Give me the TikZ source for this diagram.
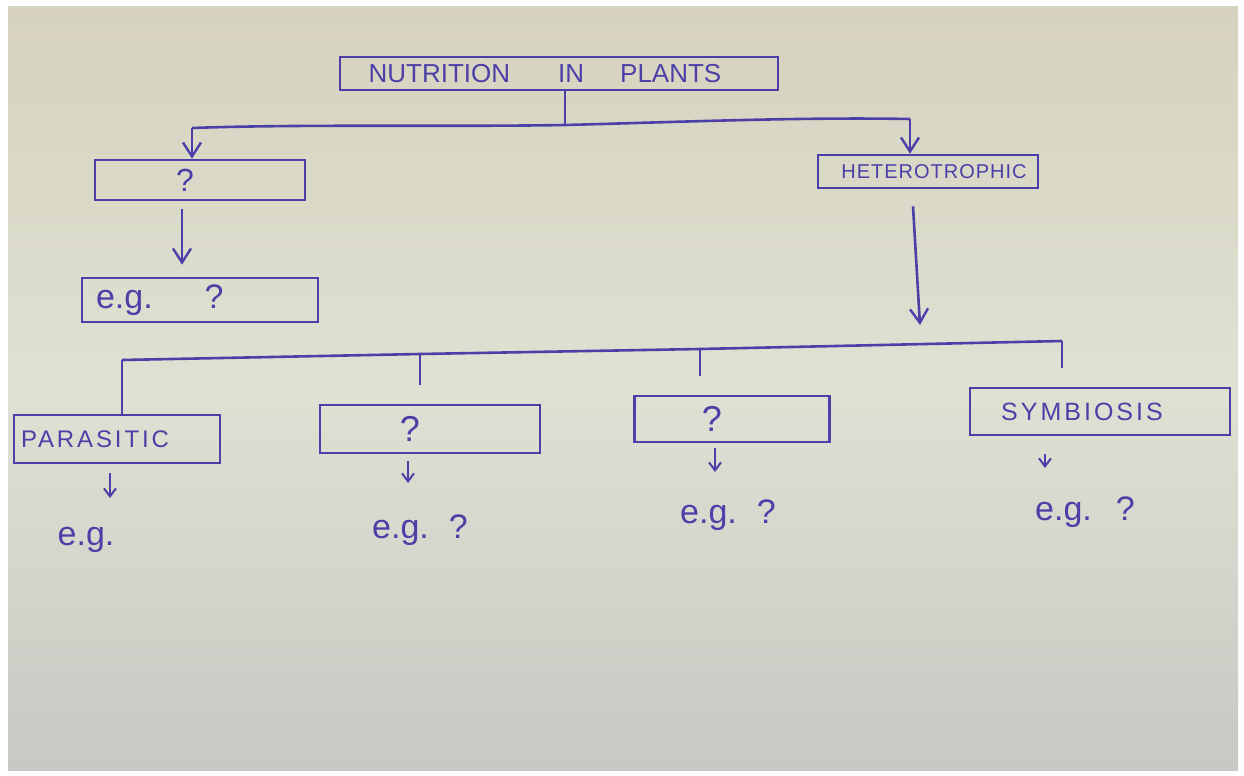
\documentclass[tikz,border=0pt]{standalone}
\usepackage{fontspec}
\setmainfont{Liberation Sans}
\usetikzlibrary{arrows.meta,calc}
\definecolor{ink}{RGB}{76,64,168}
\definecolor{papertop}{RGB}{214,210,190}
\definecolor{papermid}{RGB}{223,225,211}
\definecolor{paperbot}{RGB}{200,200,196}
\tikzset{
  box/.style={draw=ink, line width=1.3pt, rectangle, inner sep=0pt, text=ink},
  lbl/.style={text=ink, inner sep=0pt},
  conn/.style={draw=ink, line width=1.3pt},
  arr/.style={conn, -{Straight Barb[length=7pt,width=9pt,line width=1.2pt]}},
  sarr/.style={conn, line width=1pt, -{Straight Barb[length=4pt,width=6pt,line width=1pt]}}
}
\newcommand{\caps}[2]{\addfontfeatures{LetterSpace=#1}#2}
\begin{document}
\begin{tikzpicture}[x=0.5pt,y=-0.5pt]
\useasboundingbox (0,0) rectangle (1244,776);
\fill[white] (0,0) rectangle (1244,776);
\shade[top color=papertop, bottom color=paperbot, middle color=papermid] (8,6) rectangle (1238,770);
% top node
\node[box, minimum width=219pt, minimum height=16.5pt, font=\fontsize{13}{13}\selectfont] (np) at (559,73.5) {\hspace{-14pt}NUTRITION\hspace{24pt}IN\hspace{18pt}PLANTS};
\coordinate (bj) at (565,125);
\coordinate (bl) at (192,128);
\coordinate (br) at (910,119);
\draw[conn] (np.south -| bj) -- (bj);
\draw[conn] (bl) .. controls (300,124) and (450,127) .. (bj) .. controls (680,122) and (800,117) .. (br);
% left branch
\node[box, minimum width=105pt, minimum height=20pt, font=\fontsize{16}{16}\selectfont] (auto) at (200,180) {\hspace{-15pt}?};
\draw[arr] (bl) -- (bl |- auto.north);
\node[box, minimum width=118pt, minimum height=22pt, font=\fontsize{17}{17}\selectfont] (eg0) at (200,300) {\makebox[104pt][l]{e.g.\hspace{26pt}?}};
\draw[arr] ($(auto.south -| 182,0)+(0,-4pt)$) -- ($(eg0.north -| 182,0)+(0,6pt)$);
% right branch
\node[box, minimum width=110pt, minimum height=16.5pt, font=\fontsize{10}{10}\selectfont] (het) at (928,171.5) {\hspace{6pt}\caps{5}{HETEROTROPHIC}};
\draw[arr] (br) -- (br |- het.north);
\coordinate (hb) at (920,325);
\draw[arr] ($(het.south -| 913,0)+(0,-8.5pt)$) -- (hb);
% lower bar
\coordinate (c1) at (122,360);
\coordinate (c2) at (420,354);
\coordinate (c3) at (700,349);
\coordinate (c4) at (1062,341);
\draw[conn] (c1) -- (c2) -- (c3) -- (c4);
\node[box, minimum width=103pt, minimum height=24pt, font=\fontsize{12}{12}\selectfont] (par) at (117,439) {\makebox[96pt][l]{\caps{12}{PARASITIC}}};
\node[box, minimum width=110pt, minimum height=24pt, font=\fontsize{18}{18}\selectfont] (q1) at (430,429) {\hspace{-20pt}?};
\node[box, minimum width=97.5pt, minimum height=23pt, font=\fontsize{18}{18}\selectfont] (q2) at (732,419) {\hspace{-20pt}?};
\node[box, minimum width=130pt, minimum height=23.5pt, font=\fontsize{12.5}{12.5}\selectfont] (sym) at (1100,411.5) {\hspace{-18pt}\caps{12}{SYMBIOSIS}};
\draw[conn] (c1) -- (c1 |- par.north);
\draw[conn] (c2) -- (420,385);
\draw[conn] (c3) -- (700,376);
\draw[conn] (c4) -- (1062,368);
% examples
\node[lbl, font=\fontsize{17}{17}\selectfont] (ega) at (86,540) {e.g.};
\node[lbl, font=\fontsize{17}{17}\selectfont] (egb) at (420,530) {e.g.\hspace{10pt}?};
\node[lbl, font=\fontsize{17}{17}\selectfont] (egc) at (728,515) {e.g.\hspace{10pt}?};
\node[lbl, font=\fontsize{17}{17}\selectfont] (egd) at (1085,512) {e.g.\hspace{12pt}?};
\draw[sarr] ($(par.south -| 110,0)+(0,-4.5pt)$) -- (110,498);
\draw[sarr] ($(q1.south -| 408,0)+(0,-3.5pt)$) -- (408,483);
\draw[sarr] ($(q2.south -| 715,0)+(0,-2.5pt)$) -- (715,472);
\draw[sarr] ($(sym.south -| 1045,0)+(0,-9pt)$) -- (1045,468);
\end{tikzpicture}
\end{document}
